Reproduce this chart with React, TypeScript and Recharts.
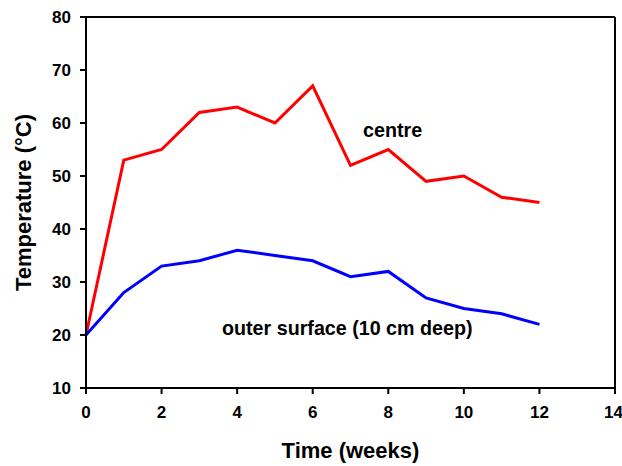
import { LineChart, Line, XAxis, YAxis, ReferenceLine } from "recharts";

const weeks = [0, 1, 2, 3, 4, 5, 6, 7, 8, 9, 10, 11, 12];
const centre = [20, 53, 55, 62, 63, 60, 67, 52, 55, 49, 50, 46, 45];
const outerSurface = [20, 28, 33, 34, 36, 35, 34, 31, 32, 27, 25, 24, 22];
const xTicks = [0, 2, 4, 6, 8, 10, 12, 14];
const yTicks = [10, 20, 30, 40, 50, 60, 70, 80];

const data = weeks.map((w, i) => ({ week: w, centre: centre[i], outer: outerSurface[i] }));

const font = "'Liberation Sans', Arial, sans-serif";
const tickStyle = { fill: "#000", fontSize: 17, fontWeight: 700, fontFamily: font };
const titleStyle = { fill: "#000", fontSize: 22, fontWeight: 700, fontFamily: font };
const noteStyle = {
  position: "absolute" as const,
  fontSize: 19.7,
  lineHeight: "19.7px",
  fontWeight: 700,
  fontFamily: font,
  whiteSpace: "nowrap" as const,
  color: "#000",
};

export default function App() {
  return (
    <div style={{ position: "absolute", left: 0, top: 0, width: 622, height: 466, background: "#fff" }}>
      <LineChart width={622} height={466} data={data} margin={{ top: 17, right: 7, bottom: 0, left: 0 }}>
        <XAxis
          dataKey="week"
          type="number"
          domain={[0, 14]}
          ticks={xTicks}
          height={78}
          tickSize={6}
          tickMargin={12}
          tick={tickStyle}
          axisLine={{ stroke: "#000", strokeWidth: 2 }}
          tickLine={{ stroke: "#000", strokeWidth: 2 }}
          label={{ value: "Time (weeks)", position: "insideBottom", offset: 8, style: titleStyle }}
        />
        <YAxis
          type="number"
          domain={[10, 80]}
          ticks={yTicks}
          width={86}
          tickSize={6}
          tickMargin={9}
          tick={tickStyle}
          axisLine={{ stroke: "#000", strokeWidth: 2 }}
          tickLine={{ stroke: "#000", strokeWidth: 2 }}
          label={{ value: "Temperature (°C)", angle: -90, position: "insideLeft", offset: 23, style: { ...titleStyle, textAnchor: "middle" } }}
        />
        <ReferenceLine y={80} stroke="#000" strokeWidth={2} />
        <ReferenceLine x={14} stroke="#000" strokeWidth={2} />
        <Line dataKey="centre" stroke="#ff0000" strokeWidth={3} dot={false} isAnimationActive={false} />
        <Line dataKey="outer" stroke="#0000ff" strokeWidth={3} dot={false} isAnimationActive={false} />
      </LineChart>
      <div style={{ ...noteStyle, left: 363, top: 121 }}>centre</div>
      <div style={{ ...noteStyle, left: 222, top: 319 }}>outer surface (10 cm deep)</div>
    </div>
  );
}
